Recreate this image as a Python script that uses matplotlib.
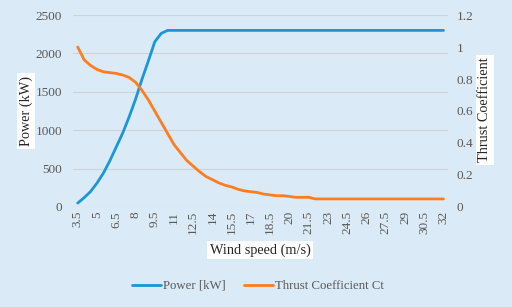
import matplotlib
matplotlib.use('Agg')
import matplotlib.pyplot as plt
import numpy as np

# wind speed categories 3.5 .. 32 m/s, step 0.5
speeds = ['3.5', '4', '4.5', '5', '5.5', '6', '6.5', '7', '7.5', '8', '8.5', '9', '9.5', '10',
          '10.5', '11', '11.5', '12', '12.5', '13', '13.5', '14', '14.5', '15', '15.5', '16',
          '16.5', '17', '17.5', '18', '18.5', '19', '19.5', '20', '20.5', '21', '21.5', '22',
          '22.5', '23', '23.5', '24', '24.5', '25', '25.5', '26', '26.5', '27', '27.5', '28',
          '28.5', '29', '29.5', '30', '30.5', '31', '31.5', '32']

power = [50, 120, 200, 310, 440, 600, 780, 960, 1170, 1400, 1660, 1900, 2150, 2260,
         2300] + [2300] * 43

ct = [1.00, 0.92, 0.885, 0.86, 0.845, 0.84, 0.835, 0.825, 0.81, 0.78, 0.73, 0.67, 0.60, 0.53,
      0.46, 0.39, 0.34, 0.29, 0.255, 0.22, 0.19, 0.17, 0.15, 0.135, 0.125, 0.11, 0.10, 0.095,
      0.09, 0.08, 0.075, 0.07, 0.07, 0.065, 0.06, 0.06, 0.06] + [0.05] * 21

bg = '#DAEAF6'
blue = '#1B96D6'
orange = '#FF7D1F'
grey = '#595959'

plt.rcParams['font.family'] = 'Liberation Serif'

fig = plt.figure(figsize=(5.12, 3.07), dpi=100, facecolor=bg)
ax = fig.add_axes([0.143, 0.326, 0.732, 0.625])
ax.set_facecolor(bg)
ax2 = ax.twinx()

x = np.arange(len(speeds))
l1, = ax.plot(x, power, color=blue, lw=2.0, solid_capstyle='round', label='Power [kW]')
l2, = ax2.plot(x, ct, color=orange, lw=2.0, solid_capstyle='round', label='Thrust Coefficient Ct')

ax.set_xlim(-0.7, len(speeds) - 0.3)
ax.set_ylim(0, 2500)
ax.set_yticks(np.arange(0, 2501, 500))
ax2.set_ylim(0, 1.2)
ax2.set_yticks([0, 0.2, 0.4, 0.6, 0.8, 1.0, 1.2])
ax2.set_yticklabels(['0', '0.2', '0.4', '0.6', '0.8', '1', '1.2'])

ax.set_xticks(x[::3])
ax.set_xticklabels(speeds[::3], rotation=90)

ax.grid(axis='y', color='#D0D4D8', lw=0.8)
ax.set_axisbelow(True)
for a in (ax, ax2):
    for s in a.spines.values():
        s.set_visible(False)
    a.tick_params(length=0, colors=grey, labelsize=9.5)
ax.tick_params(axis='x', pad=3)
ax.tick_params(axis='y', pad=8)
ax2.tick_params(axis='y', pad=6)

box = dict(facecolor='white', edgecolor='none', pad=2)
fig.text(26 / 512, 1 - 111 / 307, 'Power (kW)', rotation=90, ha='center', va='center',
         fontsize=10.3, color='#262626', bbox=box)
fig.text(485 / 512, 1 - 110 / 307, 'Thrust Coefficient', rotation=90, ha='center', va='center',
         fontsize=10.3, color='#262626', bbox=box)
fig.text(260 / 512, 1 - 250 / 307, 'Wind speed (m/s)', ha='center', va='center',
         fontsize=10.3, color='#262626', bbox=box)

fig.legend(handles=[l1, l2], loc='center', bbox_to_anchor=(258 / 512, 1 - 286 / 307),
           ncol=2, frameon=False, fontsize=9.2, labelcolor=grey, handlelength=2.3,
           handletextpad=0.15, columnspacing=1.4)

fig.savefig('out.png', dpi=100, facecolor=bg)
